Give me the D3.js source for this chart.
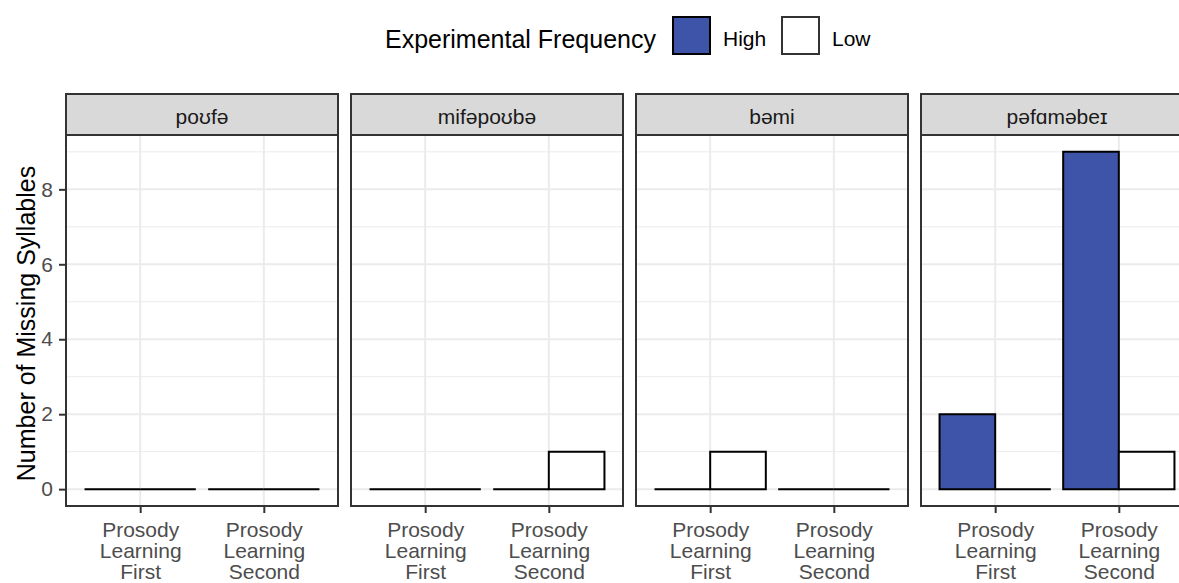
<!DOCTYPE html>
<html><head><meta charset="utf-8">
<script src="https://cdn.jsdelivr.net/npm/d3@7"></script>
<style>body{margin:0;background:#fff;} svg{display:block;font-family:"Liberation Sans",Arial,sans-serif;}</style>
</head><body>
<script>
const words = ["poʊfə", "mifəpoʊbə", "bəmi", "pəfɑməbeɪ"];
const conditions = ["Prosody Learning First", "Prosody Learning Second"];
const frequencies = ["High", "Low"];
const highFirst = [0, 0, 0, 2];
const lowFirst = [0, 0, 1, 0];
const highSecond = [0, 0, 0, 9];
const lowSecond = [0, 1, 0, 1];
const yTicks = [0, 2, 4, 6, 8];
const yMinor = [1, 3, 5, 7, 9];

const data = [];
words.forEach((w, i) => {
  data.push({word: w, cond: conditions[0], freq: "High", v: highFirst[i]});
  data.push({word: w, cond: conditions[0], freq: "Low", v: lowFirst[i]});
  data.push({word: w, cond: conditions[1], freq: "High", v: highSecond[i]});
  data.push({word: w, cond: conditions[1], freq: "Low", v: lowSecond[i]});
});

const W = 1179, H = 583;
const svg = d3.select("body").append("svg").attr("width", W).attr("height", H);
const colors = d3.scaleOrdinal().domain(frequencies).range(["#3E54A8", "#FFFFFF"]);

const panelTop = 135, panelBottom = 506, stripTop = 94;
const panelW = 272, panelGap = 13, firstLeft = 66;
const facet = d3.scaleBand().domain(words)
  .range([firstLeft, firstLeft + 4 * panelW + 3 * panelGap])
  .paddingInner(panelGap / (panelW + panelGap)).paddingOuter(0);

const y = d3.scaleLinear().domain([-0.45, 9.45]).range([panelBottom, panelTop]);

words.forEach((w) => {
  const left = facet(w), bw = facet.bandwidth();
  const x = d3.scalePoint().domain(conditions).range([left, left + bw]).padding(0.6);
  const step = x.step();
  const xs = d3.scaleBand().domain(frequencies).range([-0.45 * step, 0.45 * step]);
  const g = svg.append("g");
  g.selectAll(".minor").data(yMinor).join("line")
    .attr("x1", left).attr("x2", left + bw).attr("y1", d => y(d)).attr("y2", d => y(d))
    .attr("stroke", "#EBEBEB").attr("stroke-width", 1);
  g.selectAll(".major").data(yTicks).join("line")
    .attr("x1", left).attr("x2", left + bw).attr("y1", d => y(d)).attr("y2", d => y(d))
    .attr("stroke", "#EBEBEB").attr("stroke-width", 2);
  g.selectAll(".vmajor").data(conditions).join("line")
    .attr("x1", d => x(d)).attr("x2", d => x(d)).attr("y1", panelTop).attr("y2", panelBottom)
    .attr("stroke", "#EBEBEB").attr("stroke-width", 2);
  // bars as paths so zero-height bars still show their outline
  g.selectAll(".bar").data(data.filter(d => d.word === w)).join("path")
    .attr("d", d => {
      const x0 = x(d.cond) + xs(d.freq), x1 = x0 + xs.bandwidth();
      const y0 = y(0), y1 = y(d.v);
      return `M${x0},${y0}H${x1}V${y1}H${x0}Z`;
    })
    .attr("fill", d => colors(d.freq))
    .attr("stroke", "#000").attr("stroke-width", 2).attr("stroke-linejoin", "miter");
  g.append("rect").attr("x", left).attr("y", panelTop).attr("width", bw).attr("height", panelBottom - panelTop)
    .attr("fill", "none").attr("stroke", "#333333").attr("stroke-width", 2);
  g.append("rect").attr("x", left).attr("y", stripTop).attr("width", bw).attr("height", panelTop - stripTop)
    .attr("fill", "#D9D9D9").attr("stroke", "#333333").attr("stroke-width", 2);
  g.append("text").attr("x", left + bw / 2).attr("y", 124)
    .attr("text-anchor", "middle").attr("font-size", 21).attr("fill", "#1A1A1A").text(w);
  const xa = g.append("g").attr("transform", `translate(0,${panelBottom})`)
    .call(d3.axisBottom(x).tickSize(7).tickPadding(0).tickFormat(""));
  xa.select(".domain").remove();
  xa.selectAll(".tick line").attr("stroke", "#333333").attr("stroke-width", 2);
  xa.selectAll(".tick").each(function(d) {
    const t = d3.select(this).append("text").attr("text-anchor", "middle")
      .attr("font-size", 21).attr("fill", "#4D4D4D");
    d.split(" ").forEach((part, k) => {
      t.append("tspan").attr("x", 0).attr("y", 31 + k * 21).text(part);
    });
  });
});

const ya = svg.append("g").attr("transform", `translate(${firstLeft},0)`)
  .call(d3.axisLeft(y).tickValues(yTicks).tickSize(7).tickPadding(6));
ya.select(".domain").remove();
ya.selectAll(".tick line").attr("stroke", "#333333").attr("stroke-width", 2);
ya.selectAll(".tick text").attr("font-size", 21).attr("fill", "#4D4D4D")
  .attr("font-family", "Liberation Sans, Arial, sans-serif");

svg.append("text").attr("transform", `translate(35,${(panelTop + panelBottom) / 2 + 3}) rotate(-90)`)
  .attr("text-anchor", "middle").attr("font-size", 25).attr("fill", "#000")
  .text("Number of Missing Syllables");

const lg = svg.append("g");
lg.append("text").attr("x", 385).attr("y", 48).attr("font-size", 25).attr("fill", "#000")
  .text("Experimental Frequency");
const keyX = [673, 782];
frequencies.forEach((f, i) => {
  lg.append("rect").attr("x", keyX[i]).attr("y", 17).attr("width", 37).attr("height", 37)
    .attr("fill", colors(f)).attr("stroke", i === 0 ? "#000" : "#333333").attr("stroke-width", 2);
  lg.append("text").attr("x", keyX[i] + 50).attr("y", 46).attr("font-size", 21).attr("fill", "#000").text(f);
});
</script>
</body></html>
